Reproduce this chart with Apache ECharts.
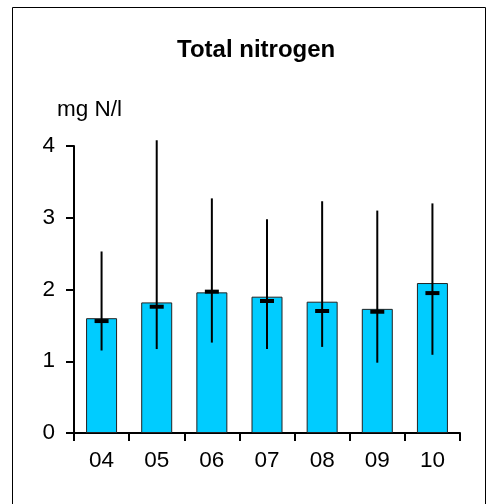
<!DOCTYPE html>
<html><head><meta charset="utf-8">
<script src="https://cdn.jsdelivr.net/npm/echarts@6/dist/echarts.min.js"></script>
<style>html,body{margin:0;padding:0;background:#fff}#c{width:494px;height:504px}</style>
</head><body><div id="c"></div>
<script>
const categories = ['04','05','06','07','08','09','10'];
const barValues  = [1.60, 1.82, 1.96, 1.90, 1.83, 1.73, 2.09];
const meanMarks  = [1.56, 1.76, 1.97, 1.84, 1.70, 1.69, 1.95];
const lowValues  = [1.15, 1.17, 1.26, 1.17, 1.20, 0.98, 1.09];
const highValues = [2.53, 4.08, 3.27, 2.98, 3.23, 3.10, 3.20];
const yTicks = [0, 1, 2, 3, 4];

const FONT = 'Liberation Sans, Arial, sans-serif';
const chart = echarts.init(document.getElementById('c'), null, {renderer:'canvas'});
const errData = categories.map((c,i)=>[i, lowValues[i], highValues[i], meanMarks[i]]);
chart.setOption({
  animation:false,
  graphic:[{type:'rect', shape:{x:12.5,y:7.5,width:473,height:520}, style:{fill:'none',stroke:'#000',lineWidth:1}, silent:true}],
  title:{text:'Total nitrogen', left:177, top:38, padding:0,
    textStyle:{fontFamily:FONT, fontWeight:'bold', fontSize:24, color:'#000'}},
  grid:{left:74, right:34, top:146, bottom:71, containLabel:false},
  xAxis:{type:'category', data:categories, boundaryGap:true,
    axisLine:{lineStyle:{color:'#000',width:2}},
    axisTick:{show:true, length:8, lineStyle:{color:'#000',width:2}},
    axisLabel:{fontFamily:FONT, fontSize:22.5, color:'#000', margin:16},
    splitLine:{show:false}},
  yAxis:{type:'value', min:yTicks[0], max:yTicks[yTicks.length-1], interval:1,
    name:'mg N/l', nameLocation:'end', nameGap:25,
    nameTextStyle:{fontFamily:FONT, fontSize:22.5, color:'#000', align:'left', padding:[0,0,0,-17]},
    axisLine:{show:true, lineStyle:{color:'#000',width:2}},
    axisTick:{show:true, inside:false, length:8, lineStyle:{color:'#000',width:2}},
    axisLabel:{fontFamily:FONT, fontSize:22.5, color:'#000', margin:19},
    splitLine:{show:false}},
  series:[
    {type:'bar', data:barValues, barWidth:31,
      itemStyle:{color:'#00CCFF', borderColor:'#222', borderWidth:1}},
    {type:'custom', data:errData, z:10,
      renderItem:function(params, api){
        const x = api.value(0);
        const lo = api.coord([x, api.value(1)]);
        const hi = api.coord([x, api.value(2)]);
        const m = api.coord([x, api.value(3)]);
        return {type:'group', children:[
          {type:'line', shape:{x1:lo[0], y1:lo[1], x2:hi[0], y2:hi[1]}, style:{stroke:'#000', lineWidth:2}},
          {type:'rect', shape:{x:m[0]-7, y:m[1]-2, width:14, height:4}, style:{fill:'#000'}}
        ]};
      }}
  ]
});
</script></body></html>
